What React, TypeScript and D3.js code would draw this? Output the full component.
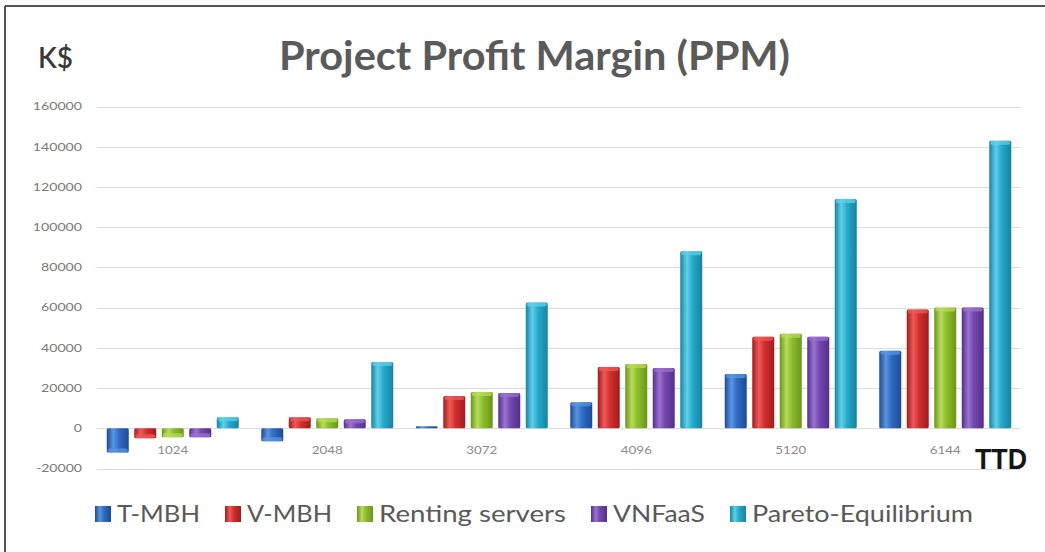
import React from "react";
import * as d3 from "d3";

const categories = ["1024", "2048", "3072", "4096", "5120", "6144"];
const seriesNames = ["T-MBH", "V-MBH", "Renting servers", "VNFaaS", "Pareto-Equilibrium"];
const tMBH = [-12000, -6500, 1000, 13000, 27000, 38500];
const vMBH = [-5000, 5500, 16000, 30500, 45500, 59000];
const renting = [-4500, 5000, 18000, 32000, 47000, 60000];
const vnfaas = [-4500, 4500, 17500, 30000, 45500, 60000];
const pareto = [5500, 33000, 62500, 88000, 114000, 143000];
const yTicks = [-20000, 0, 20000, 40000, 60000, 80000, 100000, 120000, 140000, 160000];

const seriesValues = [tMBH, vMBH, renting, vnfaas, pareto];
// [edge, light, base]
const seriesColors = [
  ["#1d4a94", "#5a95e0", "#2f6cc4"],
  ["#a11c1c", "#ee5a5a", "#d32f2f"],
  ["#6a961a", "#b9dc5a", "#8dbd2e"],
  ["#53308a", "#9a72cf", "#7447ae"],
  ["#17839f", "#5fd0ea", "#27aacb"],
];
const legendTextWidths = [83, 85, 187, 92, 221];

const W = 1045;
const H = 552;

export default function App() {
  const x0 = d3.scaleBand<string>().domain(categories).range([95.5, 1022.5]).padding(0);
  const groupW = 137.5;
  const x1 = d3
    .scaleBand<string>()
    .domain(seriesNames)
    .range([0, groupW])
    .paddingInner(0.2)
    .paddingOuter(0.1);
  const y = d3.scaleLinear().domain([-20000, 160000]).range([468.5, 106.5]);
  const groupOffset = (x0.bandwidth() - groupW) / 2;

  // legend layout
  let lx = 95;
  const legendItems = seriesNames.map((name, i) => {
    const item = { name, i, x: lx };
    lx += 16 + 6 + legendTextWidths[i] + 25;
    return item;
  });

  return (
    <svg
      width={W}
      height={H}
      style={{ position: "absolute", left: 0, top: 0, display: "block", background: "#fff" }}
      fontFamily="Lato, 'Open Sans', sans-serif"
    >
      <defs>
        {seriesColors.map((c, i) => (
          <linearGradient key={i} id={`g${i}`} x1="0" x2="1" y1="0" y2="0">
            <stop offset="0%" stopColor={c[0]} />
            <stop offset="30%" stopColor={c[1]} />
            <stop offset="55%" stopColor={c[2]} />
            <stop offset="100%" stopColor={c[0]} />
          </linearGradient>
        ))}
      </defs>
      <rect x={0} y={0} width={W} height={H} fill="#fff" />
      {/* frame */}
      <line x1={5} x2={W} y1={6} y2={6} stroke="#555" strokeWidth={2} />
      <line x1={5} x2={5} y1={6} y2={H} stroke="#555" strokeWidth={2} />

      {/* title */}
      <text
        x={279}
        y={70}
        fontSize={40}
        fontWeight={700}
        fill="#5a5a5a"
        textLength={511}
        lengthAdjust="spacingAndGlyphs"
      >
        Project Profit Margin (PPM)
      </text>
      <text x={38} y={68} fontSize={28} fontWeight={600} fill="#3a3a3a" textLength={35} lengthAdjust="spacingAndGlyphs">
        K$
      </text>

      {/* grid + y ticks */}
      {yTicks.map((t) => {
        const label = String(t);
        const w = label.replace("-", "").length * 8.2 + (label.startsWith("-") ? 5 : 0);
        return (
          <g key={t}>
            <line x1={97} x2={1020} y1={Math.round(y(t)) + 0.5} y2={Math.round(y(t)) + 0.5} stroke="#dcdcdc" strokeWidth={1} />
            <text
              x={82}
              y={y(t)}
              dy="0.35em"
              textAnchor="end"
              fontSize={11}
              fill="#7a7a7a"
              textLength={w}
              lengthAdjust="spacingAndGlyphs"
            >
              {label}
            </text>
          </g>
        );
      })}

      {/* bars */}
      {categories.map((cat, ci) => (
        <g key={cat} transform={`translate(${(x0(cat) ?? 0) + groupOffset},0)`}>
          {seriesNames.map((s, si) => {
            const v = seriesValues[si][ci];
            const top = y(Math.max(0, v));
            const bottom = y(Math.min(0, v));
            const bx = x1(s) ?? 0;
            const bw = x1.bandwidth();
            const h = Math.max(1.5, bottom - top);
            const capY = v >= 0 ? top : bottom - 4;
            return (
              <g key={s}>
                <rect x={bx} y={top} width={bw} height={h} fill={`url(#g${si})`} rx={1.5} />
                {h > 5 && (
                  <rect
                    x={bx + 1}
                    y={capY}
                    width={bw - 2}
                    height={4}
                    rx={2}
                    fill={seriesColors[si][1]}
                    opacity={0.75}
                  />
                )}
              </g>
            );
          })}
        </g>
      ))}

      {/* x labels */}
      {categories.map((cat) => (
        <text
          key={cat}
          x={(x0(cat) ?? 0) + x0.bandwidth() / 2}
          y={454}
          textAnchor="middle"
          fontSize={12}
          fill="#8a8a8a"
          textLength={31}
          lengthAdjust="spacingAndGlyphs"
        >
          {cat}
        </text>
      ))}

      <text
        x={975}
        y={469}
        fontSize={29}
        fontWeight={700}
        fill="#151515"
        fontFamily="'Liberation Sans', Arial, sans-serif"
        textLength={52}
        lengthAdjust="spacingAndGlyphs"
      >
        TTD
      </text>

      {/* legend */}
      {legendItems.map((it) => (
        <g key={it.name}>
          <rect x={it.x} y={506} width={16} height={16} fill={`url(#g${it.i})`} />
          <text
            x={it.x + 22}
            y={522}
            fontSize={23}
            fill="#595959"
            textLength={legendTextWidths[it.i]}
            lengthAdjust="spacingAndGlyphs"
          >
            {it.name}
          </text>
        </g>
      ))}
    </svg>
  );
}
